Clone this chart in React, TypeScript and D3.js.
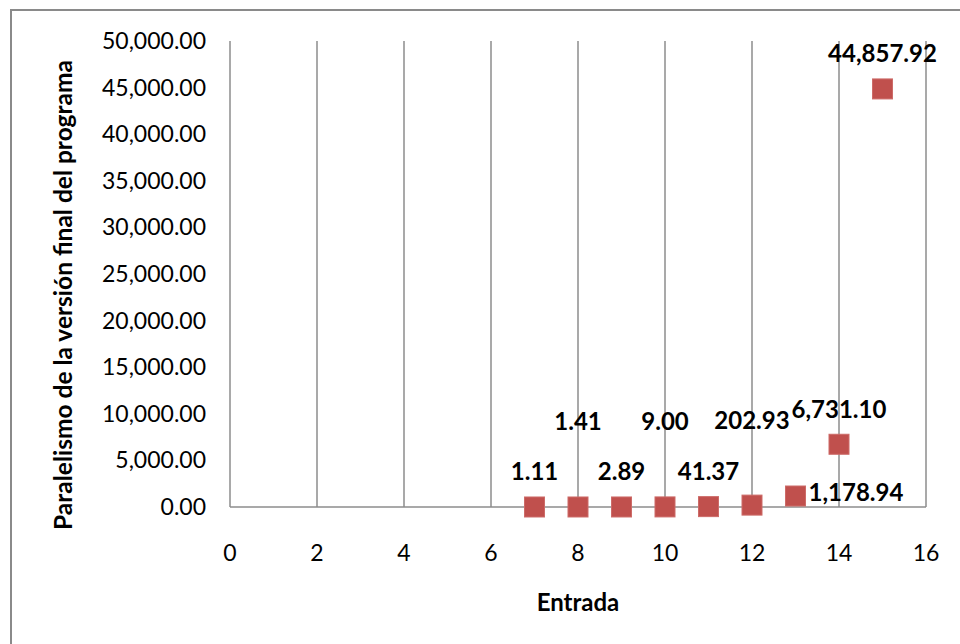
import React from "react";
import * as d3 from "d3";

const entradas = [7, 8, 9, 10, 11, 12, 13, 14, 15];
const paralelismo = [1.11, 1.41, 2.89, 9.0, 41.37, 202.93, 1178.94, 6731.1, 44857.92];
const xTicks = [0, 2, 4, 6, 8, 10, 12, 14, 16];
const yTicks = [0, 5000, 10000, 15000, 20000, 25000, 30000, 35000, 40000, 45000, 50000];

// where each data label sits relative to its marker
const labelPlacement = ["above", "high", "above", "high", "above", "high", "right", "above", "above"];

const W = 960;
const H = 644;
const FONT = "Lato, 'Open Sans', sans-serif";

export default function App() {
  const x = d3.scaleLinear().domain([0, 16]).range([230, 926]);
  const y = d3.scaleLinear().domain([0, 50000]).range([507, 41]);
  const fmt = d3.format(",.2f");
  const grid = "#8c8c8c";
  const m = 20;

  return (
    <svg width={W} height={H} style={{ position: "absolute", left: 0, top: 0, background: "#fff" }}>
      <rect x={11} y={10} width={W + 20} height={H + 20} fill="#fff" stroke="#8a8a8a" strokeWidth={2} />
      {xTicks.slice(1).map((t) => (
        <line key={"g" + t} x1={x(t)} x2={x(t)} y1={y(50000)} y2={y(0)} stroke={grid} strokeWidth={1.5} />
      ))}
      <line x1={x(0)} x2={x(0)} y1={y(50000)} y2={y(0)} stroke={grid} strokeWidth={1.5} />
      <line x1={x(0)} x2={x(16)} y1={y(0)} y2={y(0)} stroke={grid} strokeWidth={1.5} />
      {yTicks.map((t) => (
        <text key={"y" + t} x={206} y={y(t)} dy="0.35em" textAnchor="end" fontFamily={FONT} fontSize={23} fill="#000">
          {fmt(t)}
        </text>
      ))}
      {xTicks.map((t) => (
        <text key={"x" + t} x={x(t)} y={553} dy="0.35em" textAnchor="middle" fontFamily={FONT} fontSize={23} fill="#000">
          {t}
        </text>
      ))}
      <text x={578} y={603} dy="0.35em" textAnchor="middle" fontFamily={FONT} fontSize={24} fontWeight="bold">
        Entrada
      </text>
      <text
        transform={`translate(63,295) rotate(-90)`}
        dy="0.35em"
        textAnchor="middle"
        fontFamily={FONT}
        fontSize={24.5}
        fontWeight="bold"
      >
        Paralelismo de la versión final del programa
      </text>
      {entradas.map((e, i) => (
        <rect
          key={"p" + e}
          x={x(e) - m / 2}
          y={y(paralelismo[i]) - m / 2}
          width={m}
          height={m}
          fill="#C0504D"
          stroke="#cd6b68"
          strokeWidth={1}
        />
      ))}
      {entradas.map((e, i) => {
        const px = x(e);
        const py = y(paralelismo[i]);
        const p = labelPlacement[i];
        let lx = px;
        let ly = py - 35;
        let anchor = "middle";
        if (p === "high") ly = py - 85;
        if (p === "right") {
          lx = px + 13;
          ly = py - 3;
          anchor = "start";
        }
        return (
          <text
            key={"l" + e}
            x={lx}
            y={ly}
            dy="0.35em"
            textAnchor={anchor}
            fontFamily={FONT}
            fontSize={24}
            fontWeight="bold"
            fill="#000"
          >
            {fmt(paralelismo[i])}
          </text>
        );
      })}
    </svg>
  );
}
